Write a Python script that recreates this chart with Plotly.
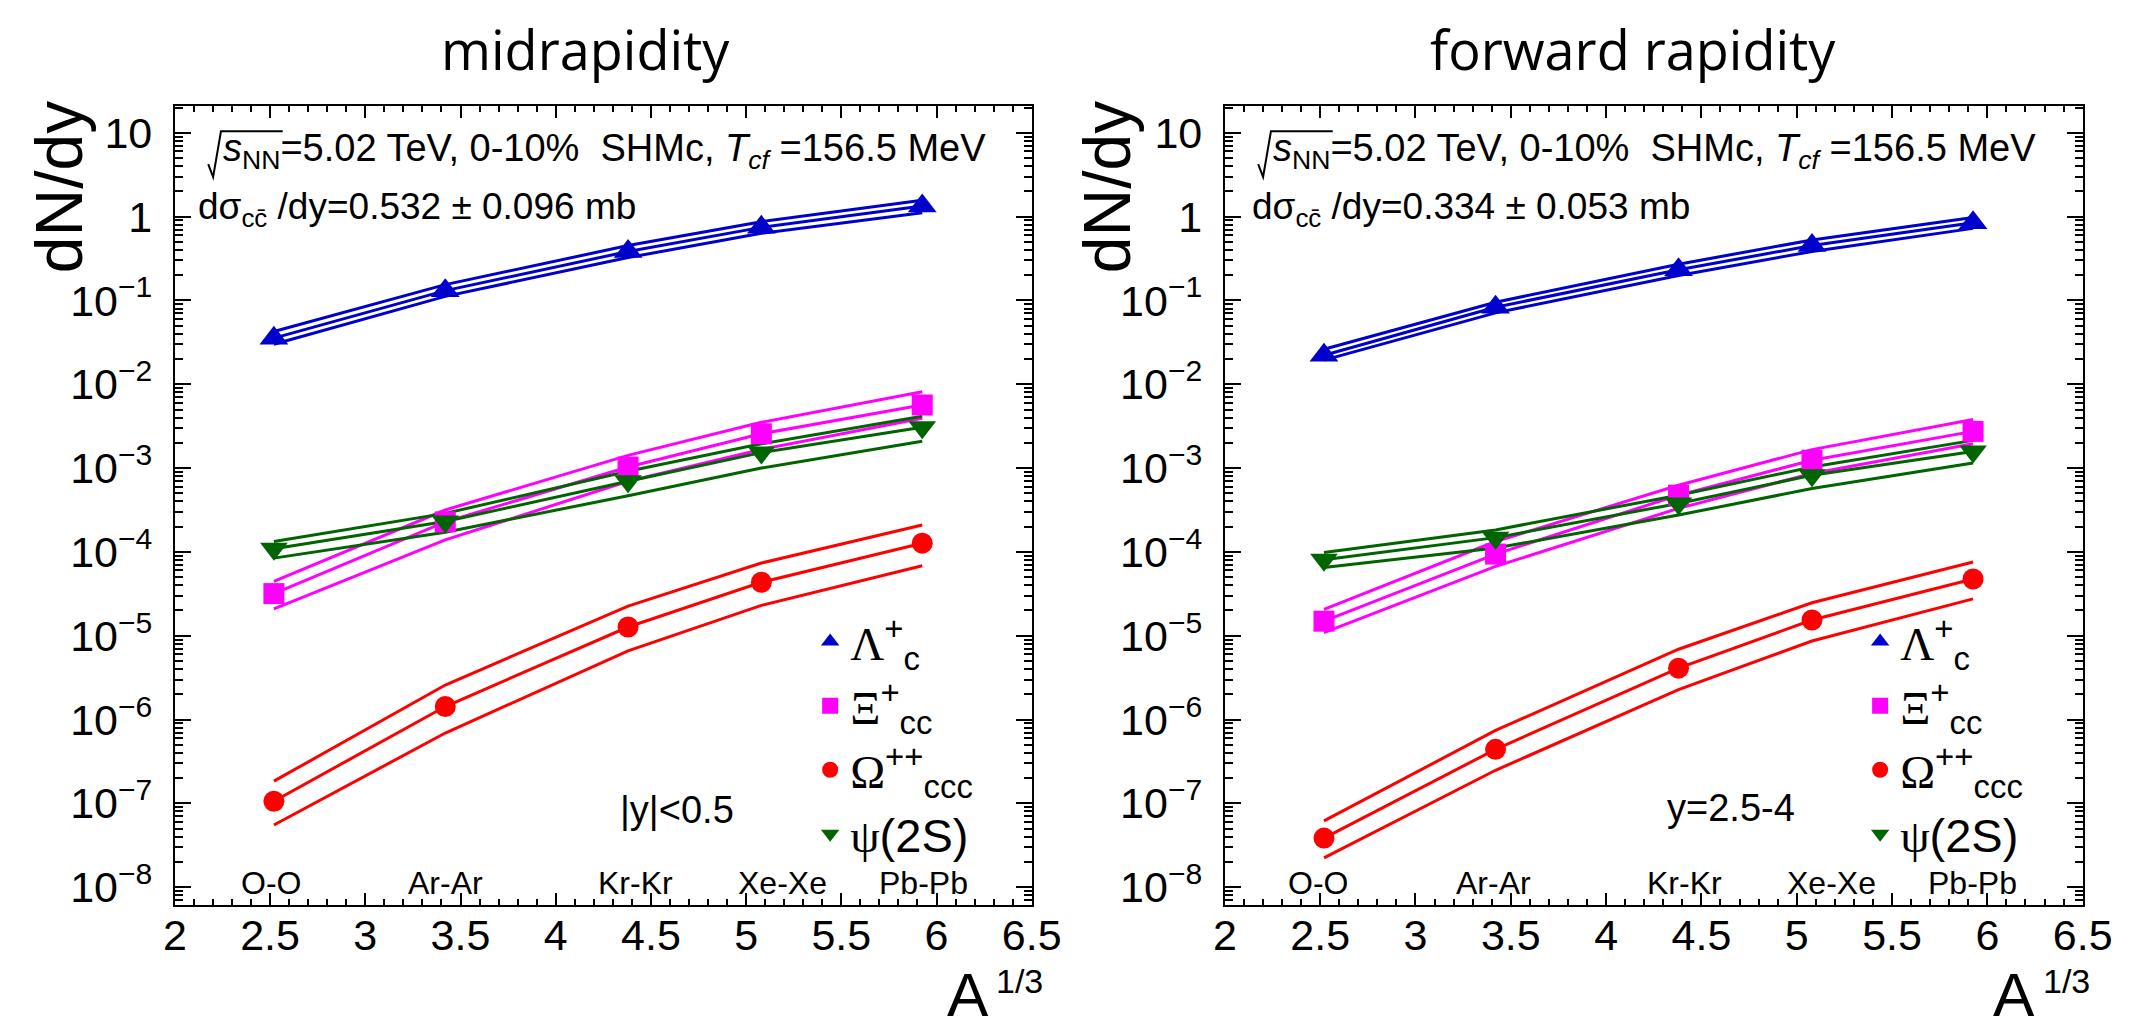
import plotly.graph_objects as go
import numpy as np

W, H = 2138, 1029

# ---------------- data ----------------
A13 = [2.52, 3.42, 4.38, 5.08, 5.925]          # A^(1/3) for O, Ar, Kr, Xe, Pb
systems = ["O-O", "Ar-Ar", "Kr-Kr", "Xe-Xe", "Pb-Pb"]
label_x_mid = [2.505, 3.42, 4.42, 5.19, 5.93]
label_x_fwd = [2.49, 3.41, 4.41, 5.18, 5.92]

# midrapidity |y|<0.5
lam_mid_c = [0.0355, 0.131, 0.384, 0.745, 1.34]
lam_mid_hi = [0.0427, 0.1545, 0.452, 0.871, 1.57]
lam_mid_lo = [0.0300, 0.112, 0.325, 0.632, 1.11]

xi_mid_c = [3.18e-5, 2.28e-4, 1.03e-3, 2.57e-3, 5.66e-3]
xi_mid_hi = [4.46e-5, 3.16e-4, 1.42e-3, 3.52e-3, 8.15e-3]
xi_mid_lo = [2.09e-5, 1.39e-4, 6.97e-4, 1.67e-3, 3.93e-3]

om_mid_c = [1.06e-7, 1.43e-6, 1.27e-5, 4.34e-5, 1.27e-4]
om_mid_hi = [1.84e-7, 2.58e-6, 2.25e-5, 7.36e-5, 2.09e-4]
om_mid_lo = [5.52e-8, 6.9e-7, 6.58e-6, 2.30e-5, 6.84e-5]

psi_mid_c = [1.09e-4, 2.30e-4, 6.97e-4, 1.53e-3, 3.07e-3]
psi_mid_hi = [1.33e-4, 2.88e-4, 9.16e-4, 1.95e-3, 4.15e-3]
psi_mid_lo = [8.43e-5, 1.72e-4, 4.67e-4, 1.00e-3, 2.09e-3]

# forward rapidity y=2.5-4
lam_fwd_c = [0.0222, 0.083, 0.233, 0.452, 0.848]
lam_fwd_hi = [0.0262, 0.0953, 0.271, 0.527, 0.98]
lam_fwd_lo = [0.0194, 0.0711, 0.199, 0.384, 0.725]

xi_fwd_c = [1.49e-5, 9.42e-5, 4.75e-4, 1.24e-3, 2.74e-3]
xi_fwd_hi = [2.06e-5, 1.33e-4, 6.25e-4, 1.66e-3, 3.79e-3]
xi_fwd_lo = [1.09e-5, 6.71e-5, 3.31e-4, 8.61e-4, 1.95e-3]

om_fwd_c = [3.85e-8, 4.41e-7, 4.1e-6, 1.54e-5, 4.75e-5]
om_fwd_hi = [6.17e-8, 7.41e-7, 6.9e-6, 2.47e-5, 7.57e-5]
om_fwd_lo = [2.23e-8, 2.48e-7, 2.27e-6, 8.65e-6, 2.75e-5]

psi_fwd_c = [8.05e-5, 1.48e-4, 3.79e-4, 8.22e-4, 1.58e-3]
psi_fwd_hi = [9.84e-5, 1.83e-4, 4.75e-4, 1.03e-3, 2.14e-3]
psi_fwd_lo = [6.53e-5, 1.11e-4, 2.75e-4, 5.71e-4, 1.15e-3]

y_tick_exps = [-8, -7, -6, -5, -4, -3, -2, -1, 0, 1]

# ---------------- styles ----------------
BLUE = "#0000CC"
MAG = "#FF00FF"
RED = "#FF0000"
GREEN = "#006400"
SANS = "Liberation Sans, Arial, Helvetica, sans-serif"
SERIF = "Liberation Serif, Times New Roman, serif"
TITLEFONT = "Open Sans, Lato, sans-serif"

def greek(ch):
    return f'<span style="font-family:{SERIF}">{ch}</span>'

species_names = [
    greek("Λ") + "<sup>+</sup><sub>c</sub>",
    greek("Ξ") + "<sup>+</sup><sub>cc</sub>",
    greek("Ω") + "<sup>++</sup><sub>ccc</sub>",
    greek("ψ") + "(2S)",
]
colors = [BLUE, MAG, RED, GREEN]
symbols = ["triangle-up", "square", "circle", "triangle-down"]
msizes = [25, 21, 21, 24]

panels = [
    dict(xa="x", ya="y", leg="legend",
         data=[(lam_mid_c, lam_mid_hi, lam_mid_lo), (xi_mid_c, xi_mid_hi, xi_mid_lo),
               (om_mid_c, om_mid_hi, om_mid_lo), (psi_mid_c, psi_mid_hi, psi_mid_lo)]),
    dict(xa="x2", ya="y2", leg="legend2",
         data=[(lam_fwd_c, lam_fwd_hi, lam_fwd_lo), (xi_fwd_c, xi_fwd_hi, xi_fwd_lo),
               (om_fwd_c, om_fwd_hi, om_fwd_lo), (psi_fwd_c, psi_fwd_hi, psi_fwd_lo)]),
]

fig = go.Figure()
for p in panels:
    for k, (c, hi, lo) in enumerate(p["data"]):
        for series in (hi, c, lo):
            fig.add_trace(go.Scatter(x=A13, y=series, mode="lines", xaxis=p["xa"], yaxis=p["ya"],
                                     line=dict(color=colors[k], width=3), showlegend=False,
                                     hoverinfo="skip"))
    for k, (c, hi, lo) in enumerate(p["data"]):
        fig.add_trace(go.Scatter(x=A13, y=c, mode="markers", xaxis=p["xa"], yaxis=p["ya"],
                                 marker=dict(color=colors[k], symbol=symbols[k], size=msizes[k],
                                             line=dict(width=0)),
                                 name=species_names[k], legend=p["leg"], showlegend=True))

# ---------------- axes ----------------
ylog_range = [-8.21, 1.32]
y_tickvals = [10.0 ** e for e in y_tick_exps]
y_ticktext = ["1" if e == 0 else ("10" if e == 1 else "10<sup>\u2212%d</sup>" % (-e))
              for e in y_tick_exps]

def xax(domain, anchor):
    return dict(domain=domain, anchor=anchor, range=[2, 6.5], tick0=2, dtick=0.5,
                ticks="inside", ticklen=12, tickwidth=2, tickcolor="black",
                showline=True, linecolor="black", linewidth=2, mirror="allticks",
                showgrid=False, zeroline=False, ticklabelstandoff=-8,
                tickfont=dict(family=SANS, size=43, color="black"),
                minor=dict(ticks="inside", ticklen=6, tickwidth=2, tickcolor="black",
                           dtick=0.1, tick0=2, showgrid=False))

def yax(domain, anchor):
    return dict(domain=domain, anchor=anchor, type="log", range=ylog_range,
                tickmode="array", tickvals=y_tickvals, ticktext=y_ticktext,
                ticks="inside", ticklen=16, tickwidth=2, tickcolor="black",
                showline=True, linecolor="black", linewidth=2, mirror="allticks",
                showgrid=False, zeroline=False, ticklabelstandoff=12,
                tickfont=dict(family=SANS, size=43, color="black"),
                minor=dict(ticks="inside", ticklen=8, tickwidth=2, tickcolor="black",
                           dtick="D1", showgrid=False))

ydom = [1 - 902 / H, 1 - 98.6 / H]
LX0, LX1 = 158, 1032
RX0, RX1 = 1229, 2104
DX = RX0 - LX0

legend_common = dict(xanchor="left", yanchor="top", bgcolor="rgba(0,0,0,0)", borderwidth=0,
                     font=dict(family=SANS, size=47, color="black"), tracegroupgap=0)
fig.update_layout(
    width=W, height=H, margin=dict(l=0, r=0, t=0, b=0),
    paper_bgcolor="white", plot_bgcolor="white",
    xaxis=xax([LX0 / W, LX1 / W], "y"),
    yaxis=yax(ydom, "x"),
    xaxis2=xax([RX0 / W, RX1 / W], "y2"),
    yaxis2=yax(ydom, "x2"),
    font=dict(family=SANS, color="black"),
    legend=dict(x=806 / W, y=1 - 600 / H, **legend_common),
    legend2=dict(x=(806 + DX) / W, y=1 - 600 / H, **legend_common),
    showlegend=True,
)

ann = []
def pa(x, y, text, size, xanchor="left", yanchor="middle", family=SANS, angle=0):
    ann.append(dict(x=x / W, y=1 - y / H, xref="paper", yref="paper", text=text,
                    showarrow=False, xanchor=xanchor, yanchor=yanchor, textangle=angle,
                    font=dict(family=family, size=size, color="black")))

# titles
pa(577, 41, "midrapidity", 54, xanchor="center", family=TITLEFONT)
pa(1645, 41, "forward rapidity", 54, xanchor="center", family=TITLEFONT)
# y axis titles
for xoff in (0, 1069):
    pa(40 + xoff, 180, "dN/dy", 66, xanchor="center", angle=-90)
# x axis titles (A with superscript 1/3)
for a_right, sup_left in ((990, 994), (2057, 2061)):
    ann.append(dict(x=a_right / W, y=0, xref="paper", yref="paper", text="A",
                    showarrow=False, xanchor="right", yanchor="bottom",
                    font=dict(family=SANS, size=62, color="black")))
    pa(sup_left, 979, "1/3", 34)

sqrt_txt = ('<i>s</i><sub>NN</sub>'
            '=5.02 TeV, 0-10%\u00a0\u00a0SHMc, <i>T</i><sub><i>cf</i></sub> =156.5 MeV')
pa(LX0 + 47, 144, sqrt_txt, 38)
pa(RX0 + 47, 144, sqrt_txt, 38)
pa(LX0 + 22, 202, "dσ<sub>cc\u0304</sub> /dy=0.532 ± 0.096 mb", 37)
pa(RX0 + 26, 202, "dσ<sub>cc\u0304</sub> /dy=0.334 ± 0.053 mb", 37)
pa(670, 807, "|y|<0.5", 38, xanchor="center")
pa(1745, 805, "y=2.5-4", 38, xanchor="center")

# collision-system labels (data coords)
for lx, name in zip(label_x_mid, systems):
    ann.append(dict(x=lx, y=-7.95, xref="x", yref="y", text=name, showarrow=False,
                    xanchor="center", yanchor="middle",
                    font=dict(family=SANS, size=32, color="black")))
for lx, name in zip(label_x_fwd, systems):
    ann.append(dict(x=lx, y=-7.95, xref="x2", yref="y2", text=name, showarrow=False,
                    xanchor="center", yanchor="middle",
                    font=dict(family=SANS, size=32, color="black")))

# radical sign for sqrt(s_NN)
shapes = []
for off in (0, DX):
    pts = [(192 + off, 157), (197 + off, 170), (205 + off, 124), (268 + off, 124)]
    path = "M " + " L ".join(f"{px / W:.5f},{1 - py / H:.5f}" for px, py in pts)
    shapes.append(dict(type="path", path=path, xref="paper", yref="paper",
                       line=dict(color="black", width=2)))

fig.update_layout(annotations=ann, shapes=shapes)
fig.write_html("out.html")
